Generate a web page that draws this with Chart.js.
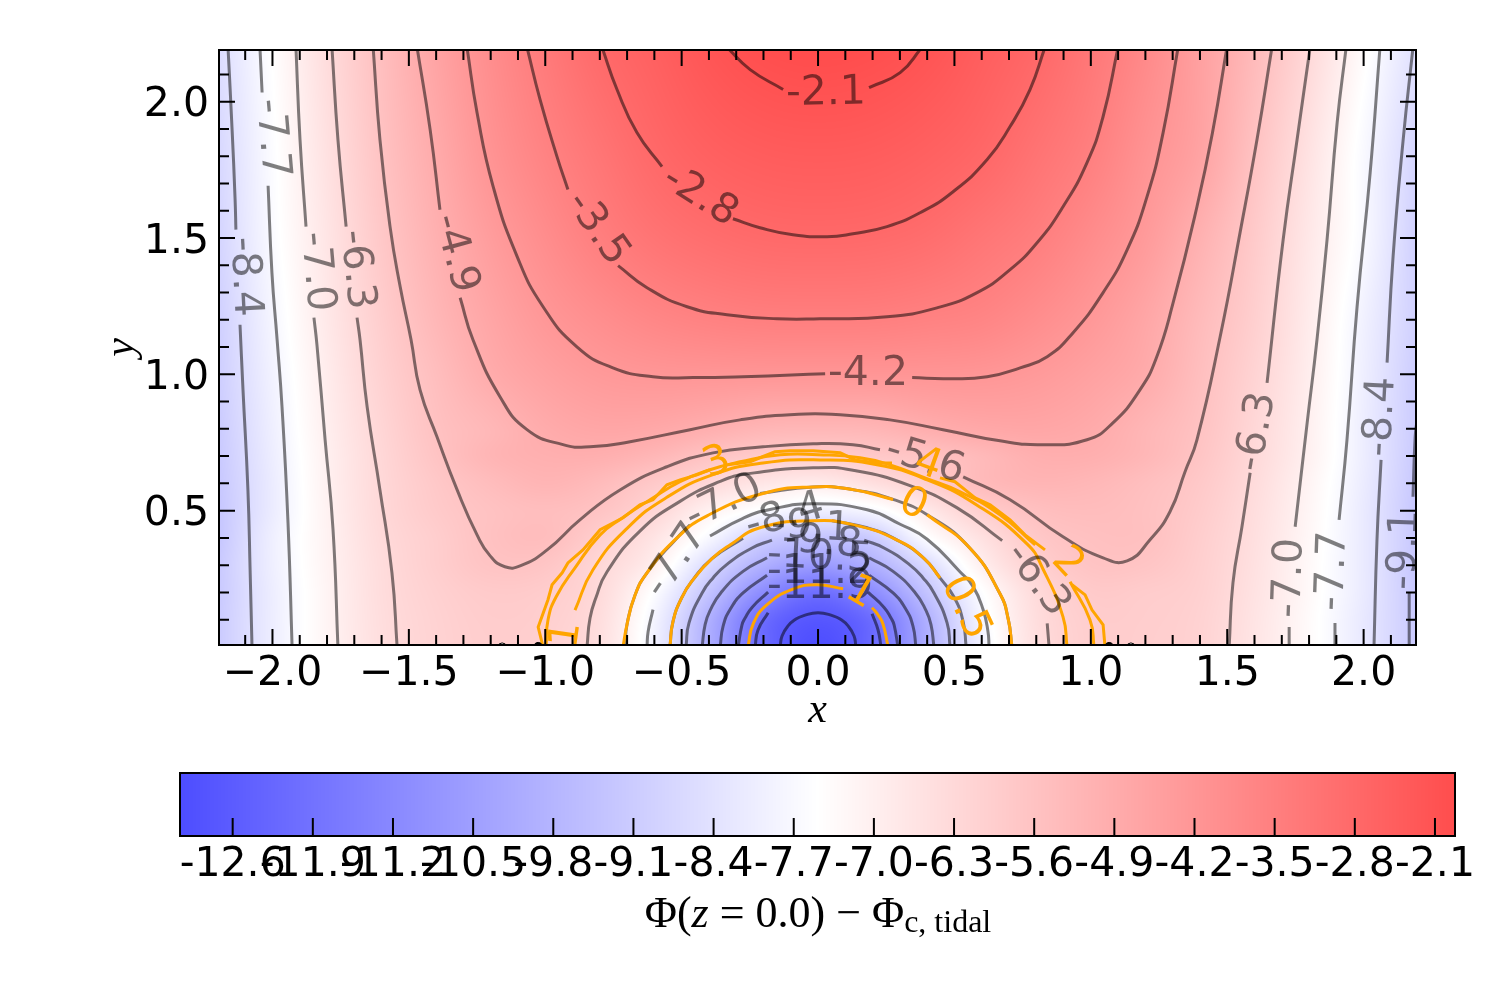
<!DOCTYPE html>
<html>
<head>
<meta charset="utf-8">
<title>Potential contours</title>
<script src="https://cdn.jsdelivr.net/npm/chart.js@4"></script>
<style>
  html, body { margin: 0; padding: 0; background: #fff; }
  #wrap { position: relative; width: 1500px; height: 1000px; }
  #main { position: absolute; left: 0; top: 0; }
  #cbar { position: absolute; left: 0; top: 740px; }
</style>
</head>
<body>
<div id="wrap">
  <canvas id="main" width="1500" height="740"></canvas>
  <canvas id="cbar" width="1500" height="260"></canvas>
</div>
<script>
// axis ranges and ticks
var xMin = -2.196, xMax = 2.192, yMin = 0.007, yMax = 2.19;
var xTicks = [-2, -1.5, -1, -0.5, 0, 0.5, 1, 1.5, 2];
var xTickLabels = ["\u22122.0", "\u22121.5", "\u22121.0", "\u22120.5", "0.0", "0.5", "1.0", "1.5", "2.0"];
var yTicks = [0.5, 1, 1.5, 2];
var yTickLabels = ["0.5", "1.0", "1.5", "2.0"];
var xMinorTicks = [-2.1, -1.9, -1.8, -1.7, -1.6, -1.4, -1.3, -1.2, -1.1, -0.9, -0.8, -0.7, -0.6, -0.4, -0.3, -0.2, -0.1,
  0.1, 0.2, 0.3, 0.4, 0.6, 0.7, 0.8, 0.9, 1.1, 1.2, 1.3, 1.4, 1.6, 1.7, 1.8, 1.9, 2.1];
var yMinorTicks = [0.1, 0.2, 0.3, 0.4, 0.6, 0.7, 0.8, 0.9, 1.1, 1.2, 1.3, 1.4, 1.6, 1.7, 1.8, 1.9, 2.1];

// colour bar
var cbarMin = -13.06, cbarMax = -1.925;
var cbarTicks = [-12.6, -11.9, -11.2, -10.5, -9.8, -9.1, -8.4, -7.7, -7.0, -6.3, -5.6, -4.9, -4.2, -3.5, -2.8, -2.1];
var cbarTickLabels = ["-12.6", "-11.9", "-11.2", "-10.5", "-9.8", "-9.1", "-8.4", "-7.7", "-7.0", "-6.3", "-5.6", "-4.9", "-4.2", "-3.5", "-2.8", "-2.1"];

// potential, one row per fieldY, one column per fieldX
var fieldX = [-2.2, -2, -1.8, -1.6, -1.4, -1.2, -1, -0.8, -0.6, -0.4, -0.2, 0, 0.2, 0.4, 0.6, 0.8, 1, 1.2, 1.4, 1.6, 1.8, 2, 2.2];
var fieldY = [0, 0.1, 0.2, 0.3, 0.4, 0.5, 0.6, 0.7, 0.8, 1, 1.2, 1.5, 1.8, 2.2];
var fieldRows = [
  [-9.15, -8.05, -7.17, -6.47, -6.12, -5.95, -6.05, -6.52, -7.95, -10.05, -12.15, -13.05, -12.15, -10.05, -7.95, -6.5, -5.98, -5.97, -6.12, -6.68, -7.35, -8.2, -9.2],
  [-9.15, -8.05, -7.15, -6.45, -6.1, -5.92, -6.0, -6.45, -7.85, -9.95, -12.05, -12.75, -12.05, -9.95, -7.8, -6.45, -5.95, -5.95, -6.1, -6.65, -7.35, -8.2, -9.2],
  [-9.2, -8.05, -7.15, -6.42, -6.05, -5.85, -5.92, -6.35, -7.55, -9.35, -11.1, -12.0, -11.1, -9.35, -7.55, -6.35, -5.85, -5.9, -6.05, -6.6, -7.3, -8.15, -9.25],
  [-9.2, -8.0, -7.12, -6.4, -5.97, -5.65, -5.7, -6.25, -7.0, -8.63, -9.96, -10.6, -9.96, -8.63, -7.0, -6.05, -5.65, -5.68, -6.0, -6.55, -7.3, -8.15, -9.3],
  [-9.3, -8.0, -7.1, -6.35, -5.95, -5.57, -5.45, -5.98, -6.65, -7.72, -9.0, -9.35, -9.1, -7.55, -6.55, -5.8, -5.55, -5.55, -5.95, -6.5, -7.25, -8.15, -9.25],
  [-9.3, -8.1, -7.08, -6.3, -5.85, -5.58, -5.45, -5.65, -6.2, -7.05, -7.6, -7.99, -7.72, -6.8, -5.98, -5.52, -5.42, -5.55, -5.88, -6.45, -7.2, -8.15, -9.3],
  [-9.25, -8.1, -7.05, -6.28, -5.78, -5.42, -5.18, -5.38, -5.82, -6.28, -6.72, -6.88, -6.5, -6.0, -5.38, -5.18, -5.25, -5.48, -5.8, -6.38, -7.15, -8.1, -9.25],
  [-9.2, -8.05, -7.03, -6.25, -5.65, -5.19, -5.01, -5.0, -5.23, -5.62, -5.87, -5.95, -5.8, -5.62, -5.3, -5.0, -5.0, -5.25, -5.68, -6.3, -7.05, -8.05, -9.2],
  [-9.15, -8.0, -6.98, -6.2, -5.58, -5.25, -4.88, -4.72, -4.78, -4.98, -5.2, -5.24, -5.2, -4.96, -4.78, -4.72, -4.85, -5.2, -5.6, -6.25, -7.02, -8.05, -9.15],
  [-9.05, -7.9, -6.9, -6.07, -5.45, -4.89, -4.55, -4.32, -4.22, -4.2, -4.2, -4.2, -4.2, -4.18, -4.2, -4.33, -4.56, -4.87, -5.47, -6.13, -6.95, -8.0, -9.1],
  [-9.0, -7.8, -6.79, -5.95, -5.25, -4.7, -4.26, -3.97, -3.73, -3.58, -3.5, -3.49, -3.5, -3.58, -3.68, -3.94, -4.27, -4.72, -5.35, -6.0, -6.88, -7.93, -9.0],
  [-8.85, -7.65, -6.68, -5.77, -5.04, -4.42, -3.92, -3.48, -3.15, -2.95, -2.83, -2.8, -2.83, -2.95, -3.2, -3.47, -3.88, -4.35, -5.05, -5.84, -6.76, -7.7, -9.0],
  [-8.75, -7.59, -6.56, -5.62, -4.86, -4.14, -3.62, -3.19, -2.8, -2.55, -2.42, -2.38, -2.42, -2.55, -2.76, -3.13, -3.52, -4.1, -4.63, -5.6, -6.6, -7.68, -8.85],
  [-8.6, -7.47, -6.4, -5.46, -4.63, -3.92, -3.33, -2.82, -2.51, -2.17, -1.95, -1.88, -1.95, -2.13, -2.44, -2.75, -3.24, -3.8, -4.52, -5.33, -6.28, -7.37, -8.5]
];

// contour levels: [x, y] pairs, null marks the gap left for a label
var level21 = [[-0.334, 2.2], [-0.249, 2.118], [-0.128, 2.045], null, [0.187, 2.052], [0.301, 2.107], [0.381, 2.2]];
var level28 = [[-0.792, 2.2], [-0.737, 2.045], [-0.664, 1.887], [-0.572, 1.762], null,
  [-0.312, 1.571], [-0.213, 1.538], [-0.092, 1.512], [0.033, 1.505], [0.128, 1.516], [0.253, 1.542], [0.374, 1.593], [0.495, 1.67], [0.62, 1.788], [0.704, 1.909], [0.777, 2.045], [0.832, 2.2]];
var level35 = [[-1.067, 2.2], [-1.019, 2.008], [-0.957, 1.799], [-0.917, 1.678], null,
  [-0.733, 1.399], [-0.627, 1.318], [-0.48, 1.248], [-0.334, 1.219], [-0.15, 1.204], [0.007, 1.204], [0.253, 1.211], [0.436, 1.244], [0.583, 1.3], [0.704, 1.384], [0.803, 1.483], [0.898, 1.615], [0.986, 1.777], [1.045, 1.946], [1.1, 2.2]];
var level42 = [[-1.287, 2.2], [-1.25, 1.96], [-1.191, 1.689], [-1.103, 1.432], [-1.008, 1.248], [-0.884, 1.101], [-0.752, 1.024], [-0.605, 0.991], [-0.458, 0.988], [-0.275, 0.991], [0.026, 1.002], null,
  [0.345, 0.988], [0.473, 0.984], [0.62, 0.991], [0.741, 1.024], [0.84, 1.065], [0.935, 1.153], [1.045, 1.3], [1.133, 1.457], [1.206, 1.652], [1.265, 1.887], [1.32, 2.2]];
var level49 = [[-1.47, 2.2], [-1.422, 1.898], [-1.386, 1.604], null,
  [-1.312, 1.281], [-1.265, 1.127], [-1.166, 0.918], [-1.067, 0.797], [-0.935, 0.742], [-0.836, 0.734], [-0.689, 0.753], [-0.469, 0.797], [-0.286, 0.833], [-0.103, 0.852], [0.081, 0.852], [0.264, 0.833], [0.458, 0.797], [0.667, 0.756], [0.825, 0.742], [0.986, 0.76], [1.081, 0.822], [1.18, 0.943], [1.24, 1.06], [1.301, 1.26], [1.389, 1.615], [1.448, 1.898], [1.499, 2.2]];
var level56 = [[-1.631, 2.2], [-1.606, 1.861], [-1.569, 1.542], [-1.532, 1.322], [-1.492, 1.127], [-1.459, 0.943], [-1.397, 0.771], [-1.323, 0.576], [-1.25, 0.411], [-1.202, 0.334], [-1.148, 0.294], [-1.09, 0.298], [-0.993, 0.356], [-0.873, 0.466], [-0.726, 0.576], [-0.554, 0.661], [-0.385, 0.712], [-0.202, 0.734], [-0.018, 0.745], [0.128, 0.742], [0.227, 0.723], null,
  [0.532, 0.624], [0.704, 0.54], [0.898, 0.404], [1.045, 0.327], [1.133, 0.316], [1.217, 0.393], [1.29, 0.496], [1.345, 0.642], [1.389, 0.76], [1.474, 1.138], [1.547, 1.52], [1.609, 1.861], [1.664, 2.2]];
var level63 = [[-1.782, 2.2], [-1.76, 1.861], [-1.73, 1.542], null,
  [-1.69, 1.208], [-1.679, 1.127], [-1.653, 0.881], [-1.606, 0.576], [-1.562, 0.272], [-1.543, 0], null,
  [1.804, 2.2], [1.756, 1.861], [1.705, 1.494], [1.646, 0.969], null,
  [1.584, 0.639], [1.554, 0.441], [1.521, 0.235], [1.507, 0], null,
  [-0.847, 0], [-0.836, 0.105], [-0.814, 0.181], [-0.774, 0.275], [-0.653, 0.425], [-0.506, 0.534], [-0.359, 0.607], [-0.26, 0.635], [-0.018, 0.657], [0.128, 0.648], [0.337, 0.592], [0.51, 0.51], [0.675, 0.39], null,
  [0.84, 0.086], [0.847, 0]];
var level70 = [[-1.914, 2.2], [-1.899, 1.861], [-1.877, 1.542], null,
  [-1.848, 1.208], [-1.837, 1.109], [-1.807, 0.76], [-1.778, 0.43], [-1.76, 0], null,
  [1.936, 2.2], [1.903, 1.924], [1.866, 1.494], [1.829, 1.127], [1.793, 0.822], [1.749, 0.441], null,
  [1.727, 0.073], [1.727, 0], null,
  [-0.708, 0], [-0.7, 0.084], [-0.672, 0.187], [-0.627, 0.272], [-0.517, 0.4], [-0.469, 0.448], null,
  [-0.213, 0.563], [-0.018, 0.587], [0.128, 0.577], [0.275, 0.541], [0.4, 0.485], [0.557, 0.362], [0.667, 0.195], [0.697, 0.103], [0.711, 0]];
var level77 = [[-2.046, 2.2], [-2.038, 2.034], null,
  [-2.016, 1.692], [-2.002, 1.373], [-1.983, 1.127], [-1.965, 0.881], [-1.943, 0.455], [-1.928, 0], null,
  [2.06, 2.2], [2.024, 1.74], [1.976, 1.248], [1.939, 0.76], [1.91, 0.466], null,
  [1.895, 0.088], [1.895, 0], null,
  [-0.627, 0], [-0.623, 0.056], [-0.605, 0.137], null,
  [-0.396, 0.407], [-0.275, 0.472], [-0.176, 0.504], [-0.018, 0.525], [0.18, 0.503], [0.301, 0.45], [0.4, 0.395], [0.521, 0.275], [0.568, 0.222], [0.605, 0.137], [0.623, 0.056], [0.627, 0]];
var level84 = [[-2.163, 2.2], [-2.148, 1.898], [-2.137, 1.641], [-2.134, 1.531], null,
  [-2.119, 1.182], [-2.108, 0.943], [-2.09, 0.576], [-2.082, 0.283], [-2.075, 0], null,
  [2.181, 2.2], [2.145, 1.861], [2.108, 1.432], [2.086, 1.043], null,
  [2.064, 0.686], [2.049, 0.393], [2.038, 0], null,
  [-0.543, 0], [-0.532, 0.092], [-0.499, 0.182], [-0.458, 0.247], [-0.389, 0.324], [-0.275, 0.399], null,
  [0.051, 0.463], [0.18, 0.437], [0.29, 0.392], [0.389, 0.324], [0.447, 0.253], [0.499, 0.182], [0.532, 0.092], [0.543, 0]];
var level91 = [[2.196, 0.833], [2.189, 0.771], [2.181, 0.551], null,
  [2.167, 0.198], [2.167, 0], null,
  [-0.484, 0], [-0.473, 0.088], [-0.425, 0.198], [-0.385, 0.253], [-0.334, 0.303], [-0.242, 0.363], [-0.169, 0.392], null,
  [0.169, 0.392], [0.242, 0.363], [0.334, 0.303], [0.385, 0.253], [0.425, 0.198], [0.473, 0.088], [0.484, 0]];
var level98 = [[-0.425, 0], [-0.414, 0.082], [-0.396, 0.133], [-0.356, 0.199], [-0.275, 0.277], [-0.187, 0.327], null,
  [0.187, 0.327], [0.275, 0.277], [0.356, 0.199], [0.396, 0.133], [0.414, 0.082], [0.425, 0]];
var level105 = [[-0.359, 0], [-0.348, 0.076], [-0.323, 0.136], [-0.275, 0.198], [-0.187, 0.263], null,
  [0.187, 0.263], [0.275, 0.198], [0.323, 0.136], [0.348, 0.076], [0.359, 0]];
var level112 = [[-0.293, 0], [-0.279, 0.08], [-0.268, 0.105], [-0.242, 0.145], [-0.183, 0.201], null,
  [0.183, 0.201], [0.242, 0.145], [0.268, 0.105], [0.279, 0.08], [0.293, 0]];
var level119 = [[-0.231, 0], [-0.22, 0.062], [-0.183, 0.125], null,
  [0.198, 0.122], [0.22, 0.062], [0.231, 0]];
var level126 = [[-0.139, 0], [-0.132, 0.04], [-0.11, 0.077], [-0.081, 0.102], [-0.055, 0.114], [0, 0.125], [0.055, 0.114], [0.081, 0.102], [0.11, 0.077], [0.132, 0.04], [0.139, 0]];
var grayLevels = [level21, level28, level35, level42, level49, level56, level63, level70, level77, level84, level91, level98, level105, level112, level119, level126];

// tidal contours in orange
var tidalCore = [[-0.257, 0], [-0.238, 0.084], [-0.187, 0.155], [-0.092, 0.212], [-0.004, 0.228], [0.092, 0.213], null,
  [0.198, 0.144], [0.22, 0.117], [0.238, 0.084], [0.257, 0]];
var tidalHalf = [[-0.543, 0], [-0.532, 0.092], [-0.499, 0.182], [-0.458, 0.247], [-0.389, 0.324], [-0.323, 0.374], [-0.213, 0.437], [-0.018, 0.463], [0.128, 0.448], [0.29, 0.392], [0.389, 0.324], [0.447, 0.253]];
var tidalZero = [[-0.715, 0], [-0.7, 0.084], [-0.672, 0.187], [-0.627, 0.272], [-0.517, 0.4], [-0.407, 0.481], [-0.202, 0.563], [-0.018, 0.587], [0.128, 0.577], [0.275, 0.541], null,
  [0.4, 0.485], [0.557, 0.362], [0.667, 0.195], [0.697, 0.103], [0.711, 0]];
var tidalOne = [[-0.891, 0.135], [-0.825, 0.283], [-0.7, 0.435], [-0.554, 0.549], [-0.385, 0.632], [-0.202, 0.675], [0.007, 0.686], [0.216, 0.668], [0.4, 0.613], [0.583, 0.52], [0.766, 0.378], [0.825, 0.285], [0.898, 0.11], [0.913, 0]];
var tidalTwo = [[-0.997, 0], [-0.99, 0.099], [-0.96, 0.184], [-0.891, 0.29], [-0.799, 0.411], [-0.715, 0.475], [-0.616, 0.54], [-0.506, 0.606], [-0.396, 0.65], [-0.286, 0.679], [-0.139, 0.705], [0, 0.705], [0.154, 0.694], [0.264, 0.668], [0.392, 0.62], [0.521, 0.569], [0.667, 0.485], [0.796, 0.374], null,
  [0.924, 0.239], [0.997, 0.099], [1.012, 0]];
var tidalRough = [[-1.008, 0], [-1.026, 0.073], [-0.99, 0.173], [-0.975, 0.228], [-0.938, 0.272], [-0.917, 0.308], [-0.862, 0.356], [-0.799, 0.43], [-0.715, 0.474], [-0.653, 0.521], [-0.605, 0.54], [-0.554, 0.595], [-0.506, 0.613], [-0.444, 0.631], [-0.396, 0.65], null,
  [-0.33, 0.668], [-0.249, 0.679], [-0.213, 0.694], [-0.158, 0.716], [-0.103, 0.72], [-0.018, 0.72], [0.081, 0.712], [0.136, 0.686], [0.216, 0.675], [0.271, 0.675], null,
  [0.447, 0.62], [0.502, 0.606], [0.576, 0.547], [0.631, 0.521], [0.704, 0.466], [0.759, 0.411], [0.832, 0.356], null,
  [0.931, 0.228], [0.979, 0.191], [1.004, 0.136], [1.045, 0.081], [1.052, 0]];
var orangeLevels = [tidalCore, tidalHalf, tidalZero, tidalOne, tidalTwo];

// inline contour labels
var grayLabels = ["-2.1", "-2.8", "-3.5", "-4.2", "-4.9", "-5.6", "-6.3", "-7.0", "-7.7", "-8.4", "-6.3", "-7.0", "-7.7", "-8.4", "-9.1", "-6.3", "-7.0", "-7.7", "-8.4", "-9.1", "-9.8", "-10.5", "-11.2", "-11.9"];
var grayLabelX = [0.029, -0.433, -0.81, 0.183, -1.331, 0.392, -1.694, -1.84, -2.005, -2.104, 1.609, 1.73, 1.888, 2.064, 2.152, 0.803, -0.345, -0.521, -0.121, -0.026, 0.015, 0.007, 0.007, 0.007];
var grayLabelY = [2.03, 1.652, 1.534, 0.999, 1.443, 0.683, 1.384, 1.377, 1.865, 1.358, 0.789, 0.253, 0.279, 0.844, 0.356, 0.246, 0.529, 0.316, 0.477, 0.437, 0.382, 0.327, 0.275, 0.217];
var grayLabelAngle = [-1, 32, 55, 0, 75, 17, 84, 85, 85, 87, -80, -88, -88, -87, -88, 53, -26, -56, -16, 3, 5, 3, 0, 0];
var orangeLabels = ["3", "4", "2", "0", "0.5", "1", "1"];
var orangeLabelX = [-0.37, 0.403, 0.913, 0.348, 0.539, 0.154, -0.92];
var orangeLabelY = [0.675, 0.668, 0.308, 0.521, 0.143, 0.198, 0.044];
var orangeLabelAngle = [-20, 20, 47, 25, 65, 30, -82];

// markers sitting on the lower axis
var filledX = [-1.026, 1.067];
var filledY = [0, 0];
var openX = [-1.158, 1.147];
var openY = [0, 0];

function colorOf(v) {
  var t = (v - cbarMin) / (cbarMax - cbarMin);
  t = Math.max(0, Math.min(1, t));
  if (t < 0.5) {
    var c = 77 + (255 - 77) * t * 2;
    return [c, c, 255];
  }
  var d = 255 - (255 - 77) * (t - 0.5) * 2;
  return [255, d, d];
}

// smooth painting between the read values, same idea as imshow interpolation
function smoothAt(xs, ys, v) {
  var n = xs.length, i = 0;
  while (i < n - 2 && v >= xs[i + 1]) i++;
  var h = xs[i + 1] - xs[i], s = (v - xs[i]) / h;
  var m0 = i > 0 ? (ys[i + 1] - ys[i - 1]) / (xs[i + 1] - xs[i - 1]) : (ys[1] - ys[0]) / (xs[1] - xs[0]);
  var m1 = i < n - 2 ? (ys[i + 2] - ys[i]) / (xs[i + 2] - xs[i]) : (ys[n - 1] - ys[n - 2]) / (xs[n - 1] - xs[n - 2]);
  var s2 = s * s, s3 = s2 * s;
  return (2 * s3 - 3 * s2 + 1) * ys[i] + (s3 - 2 * s2 + s) * h * m0 + (-2 * s3 + 3 * s2) * ys[i + 1] + (s3 - s2) * h * m1;
}

function toPoints(list) {
  var pts = [];
  list.forEach(function (p) {
    if (p === null) pts.push({ x: pts[pts.length - 1].x, y: null });
    else pts.push({ x: p[0], y: p[1] });
  });
  return pts;
}

function lineSet(list, color, tension) {
  return { data: toPoints(list), showLine: true, borderColor: color, borderWidth: 3, pointRadius: 0, tension: tension, spanGaps: false };
}

// chart.js paints the first dataset last, so markers and orange go first
var datasets = [];
datasets.push({
  data: filledX.map(function (v, i) { return { x: v, y: filledY[i] }; }),
  showLine: false, pointRadius: 4.5, backgroundColor: "#000", borderColor: "#000"
});
datasets.push({
  data: openX.map(function (v, i) { return { x: v, y: openY[i] }; }),
  showLine: false, pointRadius: 4, backgroundColor: "#fff", borderColor: "#000", borderWidth: 1
});
datasets.push(lineSet(tidalRough, "#ffa500", 0));
orangeLevels.forEach(function (lev) { datasets.push(lineSet(lev, "#ffa500", 0.5)); });
grayLevels.forEach(function (lev) { datasets.push(lineSet(lev, "rgba(0,0,0,0.5)", 0.5)); });

function drawFrame(ctx, area) {
  ctx.strokeStyle = "#000";
  ctx.lineWidth = 2;
  ctx.strokeRect(area.left, area.top, area.right - area.left, area.bottom - area.top);
}

var fieldPlugin = {
  id: "field",
  beforeDatasetsDraw: function (chart) {
    var a = chart.chartArea, ctx = chart.ctx;
    var w = Math.round(a.right - a.left), h = Math.round(a.bottom - a.top);
    var off = document.createElement("canvas");
    off.width = w; off.height = h;
    var octx = off.getContext("2d");
    var img = octx.createImageData(w, h);
    for (var px = 0; px < w; px++) {
      var x = chart.scales.x.getValueForPixel(a.left + px + 0.5);
      var column = fieldRows.map(function (row) { return smoothAt(fieldX, row, x); });
      for (var py = 0; py < h; py++) {
        var y = chart.scales.y.getValueForPixel(a.top + py + 0.5);
        var c = colorOf(smoothAt(fieldY, column, y));
        var k = (py * w + px) * 4;
        img.data[k] = c[0]; img.data[k + 1] = c[1]; img.data[k + 2] = c[2]; img.data[k + 3] = 255;
      }
    }
    octx.putImageData(img, 0, 0);
    ctx.drawImage(off, a.left, a.top);
  }
};

function drawLabels(chart, texts, xs, ys, angles, color) {
  var ctx = chart.ctx;
  ctx.fillStyle = color;
  ctx.font = '41px "DejaVu Sans"';
  ctx.textAlign = "center";
  ctx.textBaseline = "middle";
  texts.forEach(function (t, i) {
    ctx.save();
    ctx.translate(chart.scales.x.getPixelForValue(xs[i]), chart.scales.y.getPixelForValue(ys[i]));
    ctx.rotate(angles[i] * Math.PI / 180);
    ctx.fillText(t, 0, 0);
    ctx.restore();
  });
}

var overlayPlugin = {
  id: "overlay",
  afterDatasetsDraw: function (chart) {
    var a = chart.chartArea, ctx = chart.ctx;
    ctx.save();
    ctx.beginPath();
    ctx.rect(a.left, a.top, a.right - a.left, a.bottom - a.top);
    ctx.clip();
    drawLabels(chart, grayLabels, grayLabelX, grayLabelY, grayLabelAngle, "rgba(0,0,0,0.5)");
    drawLabels(chart, orangeLabels, orangeLabelX, orangeLabelY, orangeLabelAngle, "#ffa500");
    ctx.restore();

    // inward ticks on all four sides
    ctx.save();
    ctx.strokeStyle = "#000";
    ctx.lineWidth = 2;
    ctx.beginPath();
    function xTick(v, len) {
      var p = chart.scales.x.getPixelForValue(v);
      ctx.moveTo(p, a.bottom); ctx.lineTo(p, a.bottom - len);
      ctx.moveTo(p, a.top); ctx.lineTo(p, a.top + len);
    }
    function yTick(v, len) {
      var p = chart.scales.y.getPixelForValue(v);
      ctx.moveTo(a.left, p); ctx.lineTo(a.left + len, p);
      ctx.moveTo(a.right, p); ctx.lineTo(a.right - len, p);
    }
    xTicks.forEach(function (v) { xTick(v, 16); });
    xMinorTicks.forEach(function (v) { xTick(v, 10); });
    yTicks.forEach(function (v) { yTick(v, 16); });
    yMinorTicks.forEach(function (v) { yTick(v, 10); });
    ctx.stroke();
    drawFrame(ctx, a);
    ctx.restore();
  }
};

new Chart(document.getElementById("main"), {
  type: "scatter",
  data: { datasets: datasets },
  plugins: [fieldPlugin, overlayPlugin],
  options: {
    responsive: false,
    animation: false,
    devicePixelRatio: 1,
    layout: { padding: { top: 50, right: 84, left: 0, bottom: 4 } },
    plugins: { legend: { display: false }, tooltip: { enabled: false } },
    scales: {
      x: {
        type: "linear", min: xMin, max: xMax,
        grid: { display: false, drawTicks: false },
        border: { display: false },
        afterBuildTicks: function (s) { s.ticks = xTicks.map(function (v) { return { value: v }; }); },
        afterFit: function (s) { s.height = 91; },
        ticks: {
          autoSkip: false, maxRotation: 0, padding: 5, color: "#000",
          font: { family: "DejaVu Sans", size: 41 },
          callback: function (v, i) { return xTickLabels[i]; }
        },
        title: { display: true, text: "x", color: "#000", padding: 0, font: { family: "Liberation Serif", style: "italic", size: 42 } }
      },
      y: {
        type: "linear", min: yMin, max: yMax,
        grid: { display: false, drawTicks: false },
        border: { display: false },
        afterBuildTicks: function (s) { s.ticks = yTicks.map(function (v) { return { value: v }; }); },
        afterFit: function (s) { s.width = 219; },
        ticks: {
          autoSkip: false, padding: 10, labelOffset: 4, color: "#000",
          font: { family: "DejaVu Sans", size: 41 },
          callback: function (v, i) { return yTickLabels[i]; }
        },
        title: { display: true, text: "y", color: "#000", padding: { top: 97 }, font: { family: "Liberation Serif", style: "italic", size: 42 } }
      }
    }
  }
});

var cbarPlugin = {
  id: "cbarPaint",
  beforeDatasetsDraw: function (chart) {
    var a = chart.chartArea, ctx = chart.ctx;
    for (var px = Math.round(a.left); px < a.right; px++) {
      var c = colorOf(chart.scales.x.getValueForPixel(px + 0.5));
      ctx.fillStyle = "rgb(" + Math.round(c[0]) + "," + Math.round(c[1]) + "," + Math.round(c[2]) + ")";
      ctx.fillRect(px, a.top, 1, a.bottom - a.top);
    }
  },
  afterDatasetsDraw: function (chart) {
    var a = chart.chartArea, ctx = chart.ctx;
    ctx.save();
    ctx.strokeStyle = "#000";
    ctx.lineWidth = 2;
    ctx.beginPath();
    cbarTicks.forEach(function (v) {
      var p = chart.scales.x.getPixelForValue(v);
      ctx.moveTo(p, a.bottom); ctx.lineTo(p, a.bottom - 18);
    });
    ctx.stroke();
    drawFrame(ctx, a);

    // axis title, laid out in pieces for the italic z and the subscript
    var parts = [
      { t: "\u03a6(", f: '44px "Liberation Serif"', dy: 0 },
      { t: "z", f: 'italic 44px "Liberation Serif"', dy: 0 },
      { t: " = 0.0) \u2212 \u03a6", f: '44px "Liberation Serif"', dy: 0 },
      { t: "c, tidal", f: '32px "Liberation Serif"', dy: 9 }
    ];
    var total = 0;
    parts.forEach(function (p) { ctx.font = p.f; total += ctx.measureText(p.t).width; });
    var tx = 818 - total / 2, ty = 175;
    ctx.fillStyle = "#000";
    ctx.textAlign = "left";
    ctx.textBaseline = "middle";
    parts.forEach(function (p) {
      ctx.font = p.f;
      ctx.fillText(p.t, tx, ty + p.dy);
      tx += ctx.measureText(p.t).width;
    });
    ctx.restore();
  }
};

new Chart(document.getElementById("cbar"), {
  type: "scatter",
  data: { datasets: [{ data: [] }] },
  plugins: [cbarPlugin],
  options: {
    responsive: false,
    animation: false,
    devicePixelRatio: 1,
    layout: { padding: { top: 33, right: 45, left: 180, bottom: 0 } },
    plugins: { legend: { display: false }, tooltip: { enabled: false } },
    scales: {
      x: {
        type: "linear", min: cbarMin, max: cbarMax,
        grid: { display: false, drawTicks: false },
        border: { display: false },
        afterBuildTicks: function (s) { s.ticks = cbarTicks.map(function (v) { return { value: v }; }); },
        afterFit: function (s) { s.height = 164; },
        ticks: {
          autoSkip: false, maxRotation: 0, padding: 5, color: "#000",
          font: { family: "DejaVu Sans", size: 41 },
          callback: function (v, i) { return cbarTickLabels[i]; }
        }
      },
      y: { type: "linear", min: 0, max: 1, display: false }
    }
  }
});
</script>
</body>
</html>
